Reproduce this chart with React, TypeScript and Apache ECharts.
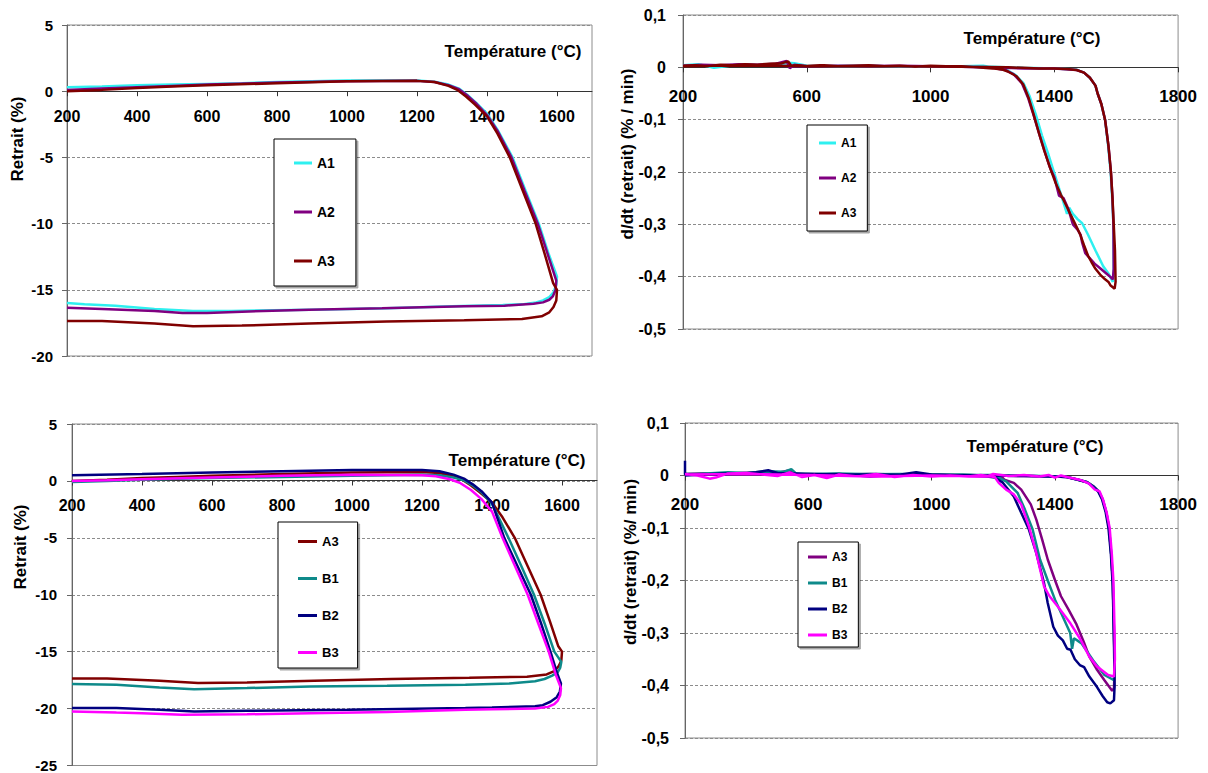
import React, { useEffect, useRef } from "react";
import * as echarts from "echarts";

type P = [number, number][];

// ---------- Panel 1 : Retrait (%) vs Température, A1 A2 A3 ----------
const r_A1: P = [
  [200, 0.3], [300, 0.35], [400, 0.45], [500, 0.5], [600, 0.55], [700, 0.6], [800, 0.7], [900, 0.75],
  [1000, 0.8], [1100, 0.8], [1200, 0.8], [1250, 0.72], [1290, 0.5], [1320, 0.2], [1345, -0.3],
  [1370, -0.9], [1400, -1.7], [1430, -2.9], [1473, -5], [1510, -7.5], [1548, -10], [1575, -12.2], [1600, -14],
  [1598, -14.6], [1590, -15.2], [1578, -15.55], [1560, -15.8], [1540, -15.95], [1500, -16.1], [1445, -16.15],
  [1300, -16.25], [1113, -16.4], [900, -16.5], [670, -16.6], [560, -16.6], [450, -16.45], [338, -16.2],
  [250, -16.1], [200, -16.0],
];
const r_A2: P = [
  [200, 0.1], [300, 0.2], [400, 0.3], [500, 0.4], [600, 0.5], [800, 0.65], [1000, 0.75], [1200, 0.78],
  [1250, 0.7], [1290, 0.45], [1320, 0.15], [1345, -0.35], [1370, -0.95], [1400, -1.8], [1430, -3],
  [1470, -5], [1507, -7.5], [1545, -10], [1572, -12.2], [1598, -14.3],
  [1596, -15.0], [1588, -15.5], [1578, -15.75], [1560, -15.95], [1533, -16.05], [1450, -16.2], [1335, -16.25],
  [1100, -16.4], [892, -16.5], [700, -16.65], [600, -16.75], [530, -16.75], [450, -16.6], [300, -16.45], [200, -16.35],
];
const r_A3: P = [
  [200, 0.0], [300, 0.1], [400, 0.25], [500, 0.35], [600, 0.45], [800, 0.6], [1000, 0.75], [1200, 0.78],
  [1250, 0.7], [1290, 0.4], [1315, 0.1], [1340, -0.4], [1365, -1.0], [1400, -1.9], [1430, -3.2], [1465, -5],
  [1502, -7.5], [1539, -10], [1565, -12.3], [1589, -14.5], [1600, -15.0],
  [1598, -15.8], [1590, -16.3], [1578, -16.7], [1556, -17.0], [1500, -17.2], [1335, -17.3], [1113, -17.4],
  [892, -17.55], [700, -17.7], [560, -17.75], [450, -17.55], [300, -17.35], [200, -17.35],
];

// ---------- Panel 3 : Retrait (%), A3 B1 B2 B3 ----------
const r_B1: P = [
  [200, -0.1], [300, 0.0], [400, 0.1], [500, 0.2], [600, 0.25], [800, 0.35], [1000, 0.45], [1200, 0.55],
  [1250, 0.5], [1290, 0.3], [1320, 0.05], [1345, -0.4], [1370, -1.0], [1400, -2.0], [1447, -5], [1484, -7.5],
  [1520, -10], [1550, -12.5], [1578, -15], [1598, -15.9],
  [1595, -16.4], [1588, -16.8], [1572, -17.1], [1550, -17.4], [1523, -17.6], [1450, -17.8], [1324, -17.9],
  [1100, -18.0], [880, -18.05], [700, -18.2], [549, -18.3], [450, -18.15], [327, -17.9], [200, -17.85],
];
const r_B2: P = [
  [200, 0.5], [400, 0.6], [600, 0.75], [800, 0.85], [1000, 0.95], [1200, 0.95], [1250, 0.85], [1290, 0.55],
  [1320, 0.2], [1345, -0.3], [1370, -0.9], [1400, -1.9], [1435, -5], [1473, -7.5], [1511, -10], [1540, -12.5],
  [1567, -15], [1585, -16.8], [1597, -17.8],
  [1594, -18.5], [1585, -19.0], [1567, -19.4], [1545, -19.7], [1523, -19.8], [1400, -19.9], [1324, -19.95],
  [991, -20.1], [700, -20.2], [549, -20.25], [450, -20.1], [327, -19.95], [200, -19.95],
];
const r_B3: P = [
  [200, 0.0], [300, 0.05], [400, 0.15], [600, 0.3], [800, 0.45], [1000, 0.55], [1200, 0.5], [1240, 0.4],
  [1280, 0.15], [1310, -0.2], [1340, -0.8], [1370, -1.6], [1400, -2.7], [1430, -5], [1466, -7.5], [1502, -10],
  [1532, -12.5], [1562, -15], [1582, -17], [1597, -18.2],
  [1595, -18.8], [1588, -19.3], [1578, -19.6], [1560, -19.85], [1523, -20.0], [1400, -20.05], [1324, -20.1],
  [1100, -20.3], [880, -20.4], [700, -20.5], [515, -20.55], [400, -20.4], [327, -20.35], [200, -20.25],
];

// ---------- Panel 2 : d/dt (retrait), A1 A2 A3 ----------
const d_A1: P = [
  [200, 0.004], [250, 0.006], [300, -0.001], [350, 0.003], [400, 0.005], [450, 0.004], [500, 0.006],
  [540, 0.009], [560, 0.008], [600, 0.003], [700, 0.002], [800, 0.003], [900, 0.001], [1000, 0.002],
  [1100, 0.002], [1170, 0.003], [1220, -0.002], [1250, -0.006], [1275, -0.015], [1300, -0.03],
  [1320, -0.055], [1340, -0.09], [1360, -0.13], [1380, -0.165], [1396, -0.195], [1412, -0.225],
  [1428, -0.255], [1441, -0.28], [1448, -0.268], [1460, -0.28], [1475, -0.29], [1490, -0.298],
  [1509, -0.32], [1533, -0.35], [1558, -0.38], [1576, -0.395], [1589, -0.41],
  [1592, -0.39], [1591, -0.3], [1587, -0.25], [1582, -0.2], [1574, -0.15], [1564, -0.1], [1552, -0.07],
  [1540, -0.05], [1533, -0.035], [1515, -0.02], [1496, -0.01], [1470, -0.004], [1400, -0.002],
  [1300, -0.001], [1200, 0.001], [1000, 0.002], [800, 0.002], [600, 0.003], [400, 0.004], [200, 0.003],
];
const d_A2: P = [
  [200, 0.003], [260, 0.005], [320, 0.004], [380, 0.006], [440, 0.005], [500, 0.007], [535, 0.012],
  [545, -0.002], [560, 0.005], [600, 0.002], [700, 0.003], [800, 0.002], [900, 0.003], [1000, 0.002],
  [1100, 0.001], [1200, -0.001], [1240, -0.005], [1268, -0.013], [1295, -0.03], [1315, -0.058],
  [1335, -0.095], [1355, -0.135], [1385, -0.19], [1400, -0.21], [1415, -0.245], [1430, -0.25],
  [1445, -0.27], [1460, -0.3], [1475, -0.31], [1485, -0.32], [1490, -0.335], [1500, -0.355],
  [1515, -0.365], [1530, -0.375], [1550, -0.385], [1570, -0.395], [1580, -0.4], [1589, -0.405],
  [1592, -0.385], [1591, -0.3], [1588, -0.25], [1583, -0.2], [1575, -0.15], [1564, -0.1], [1552, -0.07],
  [1540, -0.05], [1533, -0.035], [1515, -0.02], [1496, -0.01], [1472, -0.005], [1400, -0.002],
  [1300, -0.002], [1200, 0.0], [1000, 0.002], [800, 0.003], [600, 0.002], [400, 0.004], [200, 0.003],
];
const d_A3: P = [
  [200, 0.003], [240, 0.004], [280, 0.002], [320, 0.005], [360, 0.004], [400, 0.006], [440, 0.005],
  [480, 0.007], [520, 0.008], [540, 0.011], [550, 0.003], [570, 0.004], [600, 0.002], [650, 0.004],
  [700, 0.002], [750, 0.003], [800, 0.004], [850, 0.002], [900, 0.003], [950, 0.001], [1000, 0.003],
  [1050, 0.002], [1100, 0.002], [1150, 0.0], [1200, -0.002], [1230, -0.004], [1250, -0.008],
  [1278, -0.017], [1300, -0.033], [1318, -0.06], [1333, -0.09], [1350, -0.125], [1368, -0.16],
  [1388, -0.195], [1405, -0.222], [1421, -0.243], [1437, -0.262], [1453, -0.282], [1468, -0.3],
  [1484, -0.32], [1496, -0.34], [1509, -0.36], [1520, -0.372], [1533, -0.385], [1548, -0.396],
  [1564, -0.405], [1575, -0.41], [1582, -0.417], [1595, -0.423],
  [1598, -0.41], [1596, -0.35], [1592, -0.3], [1588, -0.25], [1583, -0.2], [1575, -0.15], [1564, -0.1],
  [1552, -0.07], [1540, -0.05], [1533, -0.035], [1515, -0.02], [1496, -0.01], [1472, -0.005],
  [1440, -0.003], [1400, -0.002], [1350, -0.002], [1300, -0.001], [1250, 0.0], [1100, 0.001],
  [900, 0.002], [700, 0.002], [500, 0.003], [300, 0.003], [200, 0.002],
];

// ---------- Panel 4 : d/dt (retrait), A3 B1 B2 B3 ----------
const e_A3: P = [
  [200, 0.003], [260, 0.004], [320, 0.003], [380, 0.005], [440, 0.006], [500, 0.005], [540, 0.01],
  [560, 0.002], [600, 0.003], [700, 0.002], [800, 0.003], [900, 0.002], [1000, 0.002], [1100, 0.001],
  [1200, 0.0], [1230, -0.004], [1236, -0.008], [1267, -0.014], [1291, -0.027], [1322, -0.055],
  [1340, -0.084], [1359, -0.122], [1377, -0.16], [1401, -0.2], [1420, -0.23], [1445, -0.256],
  [1469, -0.282], [1494, -0.317], [1512, -0.345], [1537, -0.37], [1561, -0.39], [1586, -0.41], [1592, -0.405],
  [1594, -0.37], [1592, -0.3], [1588, -0.2], [1583, -0.15], [1576, -0.1], [1567, -0.07], [1555, -0.045],
  [1542, -0.03], [1524, -0.02], [1506, -0.013], [1476, -0.008], [1439, -0.003], [1400, -0.002],
  [1300, -0.001], [1200, 0.0], [1000, 0.002], [800, 0.002], [600, 0.003], [400, 0.004], [200, 0.003],
];
const e_B1: P = [
  [200, 0.002], [270, 0.004], [340, 0.006], [400, 0.005], [460, 0.008], [520, 0.007], [545, 0.012],
  [560, 0.004], [620, 0.003], [700, 0.004], [800, 0.002], [900, 0.003], [1000, 0.001], [1100, 0.002],
  [1190, 0.0], [1218, -0.004], [1242, -0.011], [1279, -0.033], [1303, -0.065], [1328, -0.103],
  [1352, -0.16], [1377, -0.2], [1401, -0.237], [1426, -0.269], [1450, -0.3], [1456, -0.33], [1462, -0.31],
  [1475, -0.315], [1487, -0.32], [1524, -0.352], [1561, -0.38], [1592, -0.39],
  [1594, -0.36], [1592, -0.3], [1588, -0.2], [1583, -0.15], [1576, -0.1], [1567, -0.07], [1555, -0.045],
  [1542, -0.03], [1524, -0.02], [1506, -0.013], [1476, -0.008], [1439, -0.003], [1400, -0.002],
  [1300, 0.0], [1200, 0.001], [1000, 0.002], [800, 0.003], [600, 0.002], [400, 0.004], [200, 0.003],
];
const e_B2: P = [
  [200, 0.0], [260, 0.002], [320, 0.004], [380, 0.003], [430, 0.006], [470, 0.01], [500, 0.005],
  [560, 0.004], [620, 0.002], [700, 0.003], [800, -0.002], [900, 0.002], [950, 0.006], [1000, 0.002],
  [1100, 0.0], [1180, -0.002], [1206, -0.004], [1230, -0.013], [1267, -0.04], [1291, -0.071],
  [1316, -0.103], [1340, -0.148], [1365, -0.205], [1377, -0.243], [1395, -0.288], [1410, -0.305],
  [1426, -0.314], [1440, -0.33], [1451, -0.332], [1465, -0.35], [1481, -0.361], [1495, -0.365],
  [1512, -0.383], [1537, -0.403], [1555, -0.42], [1570, -0.432], [1580, -0.434], [1592, -0.428],
  [1594, -0.4], [1592, -0.32], [1588, -0.21], [1582, -0.15], [1574, -0.1], [1565, -0.07], [1553, -0.045],
  [1540, -0.03], [1522, -0.02], [1504, -0.013], [1474, -0.008], [1437, -0.003], [1400, -0.002],
  [1300, -0.001], [1200, 0.0], [1000, 0.001], [800, 0.002], [600, 0.003], [400, 0.003], [200, 0.002], [200, 0.028],
];
const e_B3: P = [
  [200, 0.003], [240, 0.0], [280, -0.006], [300, -0.004], [340, 0.004], [400, 0.005], [450, 0.002],
  [500, -0.001], [540, 0.006], [580, -0.003], [620, 0.001], [660, -0.005], [700, 0.002], [760, -0.002],
  [820, 0.003], [880, -0.003], [940, 0.001], [1000, -0.002], [1060, 0.0], [1120, -0.002], [1160, 0.001],
  [1205, -0.003], [1218, -0.014], [1242, -0.027], [1267, -0.036], [1291, -0.055], [1316, -0.097],
  [1340, -0.148], [1365, -0.211], [1383, -0.23], [1414, -0.253], [1451, -0.282], [1481, -0.31],
  [1512, -0.345], [1537, -0.364], [1573, -0.38], [1592, -0.383],
  [1595, -0.35], [1594, -0.3], [1590, -0.2], [1585, -0.15], [1578, -0.1], [1568, -0.07], [1556, -0.045],
  [1545, -0.03], [1530, -0.027], [1510, -0.015], [1480, -0.008], [1439, -0.003], [1420, 0.0],
  [1400, -0.004], [1380, 0.001], [1350, -0.002], [1300, 0.001], [1250, -0.001], [1200, 0.003],
  [1180, -0.002], [1000, 0.0], [800, -0.002], [600, 0.001], [400, 0.003], [200, 0.002],
];

// tick labels
const xTicksLeft = [200, 400, 600, 800, 1000, 1200, 1400, 1600];
const xTicksRight = [200, 600, 1000, 1400, 1800];
const titleX = "Température (°C)";
const yNameLeft = "Retrait (%)";
const yNameTopRight = "d/dt (retrait) (% / min)";
const yNameBottomRight = "d/dt (retrait) (%/ min)";

const C = {
  A1: "#2EF0F0",
  A2: "#800080",
  A3: "#800000",
  B1: "#0E8A8A",
  B2: "#000080",
  B3: "#FF00FF",
};

const FONT = '"Liberation Sans", Arial, sans-serif';

export default function App() {
  const ref = useRef<HTMLDivElement>(null);
  useEffect(() => {
    if (!ref.current) return;
    const chart = echarts.init(ref.current, undefined, { renderer: "svg" });

    const G = [
      { left: 67, top: 25, width: 525, height: 331, ymin: -20, ymax: 5 },
      { left: 683, top: 15, width: 505, height: 314, ymin: -0.5, ymax: 0.1 },
      { left: 72, top: 424, width: 525, height: 342, ymin: -25, ymax: 5 },
      { left: 685, top: 423, width: 506, height: 315, ymin: -0.5, ymax: 0.1 },
    ];
    const grids = G.map((g) => ({
      left: g.left,
      top: g.top,
      width: g.width,
      height: g.height,
      show: true,
      borderColor: "#8c8c8c",
      borderWidth: 1,
      containLabel: false,
    }));
    // distance from grid bottom up to the zero line
    const zeroOffset = (i: number) => {
      const g = G[i];
      return -(g.height * (0 - g.ymin)) / (g.ymax - g.ymin);
    };

    const mkX = (i: number, max: number, ticks: number[], margin: number, size: number) => ({
      type: "value",
      gridIndex: i,
      position: "bottom",
      offset: zeroOffset(i),
      min: 200,
      max,
      axisLine: { onZero: false, lineStyle: { color: "#333", width: 1 } },
      axisTick: { show: true, length: 5, customValues: ticks, lineStyle: { color: "#333" } },
      axisLabel: {
        customValues: ticks,
        margin,
        color: "#000",
        fontWeight: "bold",
        fontSize: size,
        fontFamily: FONT,
        formatter: (v: number) => String(Math.round(v)),
      },
      splitLine: { show: false },
    });
    const decFmt = (v: number) => {
      const r = Math.round(v * 10) / 10;
      return r === 0 ? "0" : r.toFixed(1).replace(".", ",");
    };
    const intFmt = (v: number) => String(Math.round(v));
    const mkY = (i: number, min: number, max: number, interval: number, margin: number, size: number, fmt: any) => ({
      type: "value",
      gridIndex: i,
      min,
      max,
      interval,
      axisLine: { show: true, onZero: false, lineStyle: { color: "#666", width: 1 } },
      axisTick: { show: true, length: 5, lineStyle: { color: "#666" } },
      axisLabel: {
        margin,
        color: "#000",
        fontWeight: "bold",
        fontSize: size,
        fontFamily: FONT,
        formatter: fmt,
      },
      splitLine: { show: true, lineStyle: { color: "#8c8c8c", type: [3, 2], width: 1 } },
    });

    const ser = (name: string, color: string, data: P, idx: number) => ({
      type: "line",
      name,
      xAxisIndex: idx,
      yAxisIndex: idx,
      data,
      color,
      symbol: "none",
      showSymbol: false,
      smooth: false,
      itemStyle: { color },
      lineStyle: { color, width: 2.5 },
      emphasis: { disabled: true },
    });

    const legendBase = {
      orient: "vertical",
      align: "left",
      icon: "rect",
      itemHeight: 3,
      selectedMode: false,
      borderColor: "#000",
      borderWidth: 1,
      backgroundColor: "#fff",
      shadowColor: "rgba(0,0,0,0.35)",
      shadowOffsetX: 2,
      shadowOffsetY: 2,
      shadowBlur: 0,
      formatter: (n: string) => n.split("|")[0],
    };
    const lt = (size: number) => ({ color: "#000", fontWeight: "bold", fontSize: size, fontFamily: FONT });

    const txt = (x: number, y: number, text: string, size: number, rot = 0) => ({
      type: "text",
      x,
      y,
      rotation: rot,
      z: 100,
      style: {
        text,
        fill: "#000",
        font: `bold ${size}px ${FONT}`,
        align: "center",
        verticalAlign: "middle",
        textAlign: "center",
        textVerticalAlign: "middle",
      },
    });

    chart.setOption({
      animation: false,
      grid: grids,
      xAxis: [
        mkX(0, 1700, xTicksLeft, 17, 16),
        mkX(1, 1800, xTicksRight, 21, 17),
        mkX(2, 1700, xTicksLeft, 17, 16),
        mkX(3, 1800, xTicksRight, 20, 17),
      ],
      yAxis: [
        mkY(0, -20, 5, 5, 14, 15, intFmt),
        mkY(1, -0.5, 0.1, 0.1, 17, 16, decFmt),
        mkY(2, -25, 5, 5, 15, 15, intFmt),
        mkY(3, -0.5, 0.1, 0.1, 16, 16, decFmt),
      ],
      legend: [
        {
          ...legendBase,
          data: ["A1|1", "A2|1", "A3|1"],
          left: 274,
          top: 139,
          padding: [17, 21, 18, 20],
          itemGap: 35,
          itemWidth: 18,
          textStyle: lt(14),
        },
        {
          ...legendBase,
          data: ["A1|2", "A2|2", "A3|2"],
          left: 807,
          top: 125,
          padding: [12, 11, 12, 12],
          itemGap: 23,
          itemWidth: 17,
          textStyle: lt(12),
        },
        {
          ...legendBase,
          data: ["A3|3", "B1|3", "B2|3", "B3|3"],
          left: 278,
          top: 522,
          padding: [13, 19, 9, 20],
          itemGap: 24,
          itemWidth: 19,
          textStyle: lt(13),
        },
        {
          ...legendBase,
          data: ["A3|4", "B1|4", "B2|4", "B3|4"],
          left: 798,
          top: 542,
          padding: [9, 11, 6, 10],
          itemGap: 14,
          itemWidth: 19,
          textStyle: lt(12),
        },
      ],
      series: [
        ser("A1|1", C.A1, r_A1, 0),
        ser("A2|1", C.A2, r_A2, 0),
        ser("A3|1", C.A3, r_A3, 0),
        ser("A1|2", C.A1, d_A1, 1),
        ser("A2|2", C.A2, d_A2, 1),
        ser("A3|2", C.A3, d_A3, 1),
        ser("A3|3", C.A3, r_A3, 2),
        ser("B1|3", C.B1, r_B1, 2),
        ser("B2|3", C.B2, r_B2, 2),
        ser("B3|3", C.B3, r_B3, 2),
        ser("A3|4", C.A2, e_A3, 3),
        ser("B1|4", C.B1, e_B1, 3),
        ser("B2|4", C.B2, e_B2, 3),
        ser("B3|4", C.B3, e_B3, 3),
      ],
      graphic: [
        txt(513, 51, titleX, 17),
        txt(1032, 38, titleX, 17),
        txt(517, 460, titleX, 17),
        txt(1035, 446, titleX, 17),
        txt(17, 139, yNameLeft, 17, Math.PI / 2),
        txt(627, 154, yNameTopRight, 17, Math.PI / 2),
        txt(20, 547, yNameLeft, 17, Math.PI / 2),
        txt(630, 562, yNameBottomRight, 17, Math.PI / 2),
      ],
    });
    return () => chart.dispose();
  }, []);

  return (
    <div
      ref={ref}
      style={{ position: "absolute", left: 0, top: 0, width: 1200, height: 773, background: "#fff" }}
    />
  );
}
